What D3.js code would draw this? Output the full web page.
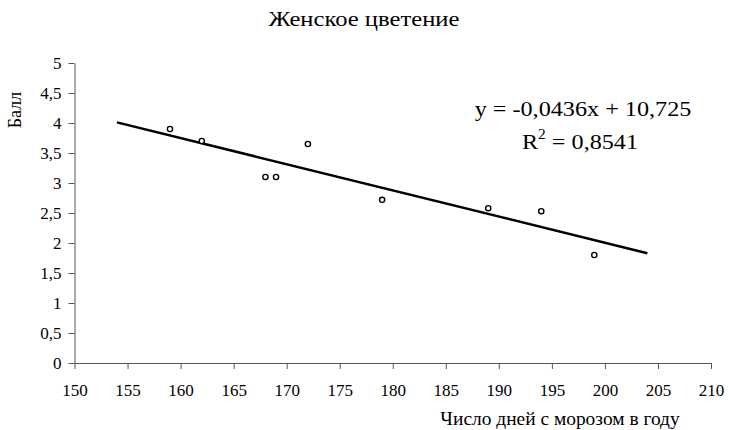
<!DOCTYPE html>
<html>
<head>
<meta charset="utf-8">
<script src="https://cdn.jsdelivr.net/npm/d3@7"></script>
<style>
  body { margin: 0; background: #fff; }
  svg text { font-family: "Liberation Serif", "Times New Roman", Times, serif !important; }
</style>
</head>
<body>
<div id="chart"></div>
<script>
const width = 729;
const height = 430;
const serif = '"Liberation Serif", "Times New Roman", Times, serif';

// data
const frostDays = [159, 162, 168, 169, 172, 179, 189, 194, 199];
const scores = [3.9, 3.7, 3.1, 3.1, 3.65, 2.72, 2.58, 2.53, 1.8];
const trendSlope = -0.0436;
const trendIntercept = 10.725;
const trendR2 = 0.8541;
const trendRange = [154, 204];
const xTicks = [150, 155, 160, 165, 170, 175, 180, 185, 190, 195, 200, 205, 210];
const yTicks = [0, 0.5, 1, 1.5, 2, 2.5, 3, 3.5, 4, 4.5, 5];

const margin = { left: 74.5, right: 18, top: 63, bottom: 67 };

const svg = d3.select('#chart')
  .append('svg')
  .attr('width', width)
  .attr('height', height)
  .style('font-family', serif);

const x = d3.scaleLinear()
  .domain([150, 210])
  .range([margin.left, width - margin.right]);

const y = d3.scaleLinear()
  .domain([0, 5])
  .range([height - margin.bottom, margin.top]);

const fmt = d => String(d).replace('.', ',');

// X axis
const xAxis = svg.append('g')
  .attr('transform', `translate(0,${y(0)})`)
  .call(d3.axisBottom(x).tickValues(xTicks).tickFormat(fmt).tickSize(6).tickSizeOuter(0).tickPadding(15));

// Y axis
const yAxis = svg.append('g')
  .attr('transform', `translate(${x(150)},0)`)
  .call(d3.axisLeft(y).tickValues(yTicks).tickFormat(fmt).tickSize(6).tickSizeOuter(0).tickPadding(7));

[xAxis, yAxis].forEach(a => {
  a.attr('font-family', serif).attr('font-size', 17);
  a.select('.domain').attr('stroke', '#555').attr('stroke-width', 1);
  a.selectAll('.tick line').attr('stroke', '#555');
  a.selectAll('.tick text')
    .attr('font-family', serif)
    .style('font-size', '17px');
});

// Trend line
const lineData = trendRange.map(v => [v, trendSlope * v + trendIntercept]);
svg.append('path')
  .datum(lineData)
  .attr('d', d3.line().x(d => x(d[0])).y(d => y(d[1])))
  .attr('fill', 'none')
  .attr('stroke', '#000')
  .attr('stroke-width', 2.5);

// Points
svg.selectAll('.pt')
  .data(frostDays.map((d, i) => ({ x: d, y: scores[i] })))
  .join('circle')
  .attr('class', 'pt')
  .attr('cx', d => x(d.x))
  .attr('cy', d => y(d.y))
  .attr('r', 2.6)
  .attr('fill', '#fff')
  .attr('stroke', '#000')
  .attr('stroke-width', 1.4);

// text in the original is slightly stretched sideways
function label(cx, cy, size, stretch) {
  return svg.append('g')
    .attr('transform', `translate(${cx},${cy}) scale(${stretch},1)`)
    .append('text')
    .attr('text-anchor', 'middle')
    .style('font-size', size + 'px');
}

label(364, 26, 22, 1.12).text('Женское цветение');

svg.append('text')
  .attr('transform', 'translate(21,110) rotate(-90)')
  .attr('text-anchor', 'middle')
  .style('font-size', '18px')
  .text('Балл');

label(560, 425, 18, 1.08).text('Число дней с морозом в году');

// Equation label
label(583, 116, 22, 1.1).text(`y = ${fmt(trendSlope)}x + ${fmt(trendIntercept)}`);

const r2 = label(580, 149, 22, 1.1);
r2.append('tspan').text('R');
r2.append('tspan').attr('dy', -10).style('font-size', '14px').text('2');
r2.append('tspan').attr('dy', 10).text(` = ${fmt(trendR2)}`);
</script>
</body>
</html>
